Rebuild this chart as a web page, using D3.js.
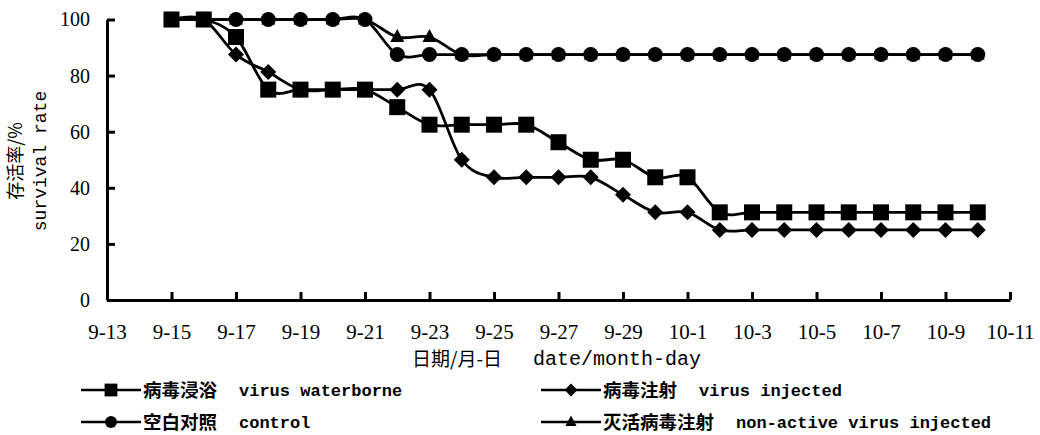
<!DOCTYPE html>
<html><head><meta charset="utf-8">
<script src="https://cdn.jsdelivr.net/npm/d3@7/dist/d3.min.js"></script>
<style>body{margin:0;background:#fff}svg{display:block}</style>
</head><body><svg id="c" width="1040" height="435"></svg>
<script>
// ---- data ----
const tickLabels = ["9-13","9-15","9-17","9-19","9-21","9-23","9-25","9-27","9-29","10-1","10-3","10-5","10-7","10-9","10-11"];
const dates = ["9-15","9-16","9-17","9-18","9-19","9-20","9-21","9-22","9-23","9-24","9-25","9-26","9-27","9-28","9-29","9-30","10-1","10-2","10-3","10-4","10-5","10-6","10-7","10-8","10-9","10-10"];
const waterborne = [100,100,93.75,75,75,75,75,68.75,62.5,62.5,62.5,62.5,56.25,50,50,43.75,43.75,31.25,31.25,31.25,31.25,31.25,31.25,31.25,31.25,31.25];
const injected   = [100,100,87.5,81.25,75,75,75,75,75,50,43.75,43.75,43.75,43.75,37.5,31.25,31.25,25,25,25,25,25,25,25,25,25];
const control    = [100,100,100,100,100,100,100,87.5,87.5,87.5,87.5,87.5,87.5,87.5,87.5,87.5,87.5,87.5,87.5,87.5,87.5,87.5,87.5,87.5,87.5,87.5];
const nonActive  = [100,100,100,100,100,100,100,93.75,93.75,87.5,87.5,87.5,87.5,87.5,87.5,87.5,87.5,87.5,87.5,87.5,87.5,87.5,87.5,87.5,87.5,87.5];
const yTicks = [0,20,40,60,80,100];
const seriesNames = [
  {zh:"病毒浸浴", en:"virus waterborne"},
  {zh:"病毒注射", en:"virus injected"},
  {zh:"空白对照", en:"control"},
  {zh:"灭活病毒注射", en:"non-active virus injected"}
];

// day offset from 9-13
function dayOf(s){const [m,d]=s.split("-").map(Number);return m===9? d-13 : 17+d;}

const svg = d3.select("#c");
const x = d3.scaleLinear().domain([0,28]).range([107,1010]);
const y = d3.scaleLinear().domain([0,100]).range([300,19.5]);

// axes
const xAxis = d3.axisBottom(x).tickValues(d3.range(0,29,2)).tickSizeInner(-8).tickSizeOuter(0)
  .tickPadding(24).tickFormat((d,i)=>tickLabels[i]);
const gx = svg.append("g").attr("transform","translate(0,300)").call(xAxis);
gx.select(".domain").attr("stroke","#000").attr("stroke-width",3);
gx.selectAll(".tick line").attr("stroke","#000").attr("stroke-width",3);
gx.selectAll(".tick text").attr("font-family","'Liberation Serif',serif").attr("font-size",21).attr("fill","#000");

const yAxis = d3.axisLeft(y).tickValues(yTicks).tickSizeInner(-8).tickSizeOuter(0).tickPadding(17);
const gy = svg.append("g").attr("transform","translate(107,0)").call(yAxis);
gy.select(".domain").attr("stroke","#000").attr("stroke-width",3);
gy.selectAll(".tick line").attr("stroke","#000").attr("stroke-width",3);
gy.selectAll(".tick text").attr("font-family","'Liberation Serif',serif").attr("font-size",20).attr("fill","#000");

// y label
const yl = svg.append("g").attr("transform","translate(0,161) rotate(-90)");
yl.append("text").attr("x",0).attr("y",22).attr("text-anchor","middle")
  .attr("font-family","'Noto Sans CJK SC',sans-serif").attr("font-size",18).text("存活率/%");
yl.append("text").attr("x",0).attr("y",46).attr("text-anchor","middle")
  .attr("font-family","'Liberation Mono',monospace").attr("font-size",18).text("survival rate");

// x label
svg.append("text").attr("x",412).attr("y",366).attr("font-family","'Noto Sans CJK SC',sans-serif").attr("font-size",19).text("日期/月-日");
svg.append("text").attr("x",533).attr("y",365).attr("font-family","'Liberation Mono',monospace").attr("font-size",20).text("date/month-day");

// series
const line = d3.line().x(d=>x(d.d)).y(d=>y(d.v)).curve(d3.curveCardinal.tension(0));
const mk = arr => dates.map((s,i)=>({d:dayOf(s), v:arr[i]}));
const series = [
  {vals:mk(waterborne), shape:"sq"},
  {vals:mk(injected), shape:"di"},
  {vals:mk(control), shape:"ci"},
  {vals:mk(nonActive), shape:"tr"}
];
function marker(g, shape, cx, cy, k){
  k = k||1;
  if(shape==="sq") g.append("rect").attr("x",cx-8*k).attr("y",cy-8*k).attr("width",16*k).attr("height",16*k).attr("fill","#000");
  else if(shape==="di") g.append("path").attr("d",`M${cx},${cy-8*k}L${cx+8*k},${cy}L${cx},${cy+8*k}L${cx-8*k},${cy}Z`).attr("fill","#000");
  else if(shape==="ci") g.append("circle").attr("cx",cx).attr("cy",cy).attr("r",7.5*k).attr("fill","#000");
  else g.append("path").attr("d",`M${cx},${cy-8*k}L${cx+7*k},${cy+5*k}L${cx-7*k},${cy+5*k}Z`).attr("fill","#000");
}
series.forEach(s=>{
  const g = svg.append("g");
  g.append("path").attr("d",line(s.vals)).attr("fill","none").attr("stroke","#000").attr("stroke-width",2.8);
  s.vals.forEach(p=>marker(g,s.shape,x(p.d),y(p.v)));
});

// legend
const legPos = [[81,390],[541,390],[81,422],[541,422]];
[0,1,2,3].forEach(i=>{
  const [lx,ly]=legPos[i];
  const g = svg.append("g");
  g.append("line").attr("x1",lx).attr("x2",lx+60).attr("y1",ly).attr("y2",ly).attr("stroke","#000").attr("stroke-width",2.5);
  marker(g, series[i].shape, lx+30, ly, 0.8);
  const t = g.append("text").attr("x",lx+62).attr("y",ly+7).attr("font-family","'Noto Sans CJK SC',sans-serif").attr("font-weight","bold").attr("font-size",18.5).text(seriesNames[i].zh);
  const w = t.node().getComputedTextLength();
  g.append("text").attr("x",lx+62+w+22).attr("y",ly+6).attr("font-family","'Liberation Mono',monospace").attr("font-weight","bold").attr("font-size",17).text(seriesNames[i].en);
});
</script></body></html>
